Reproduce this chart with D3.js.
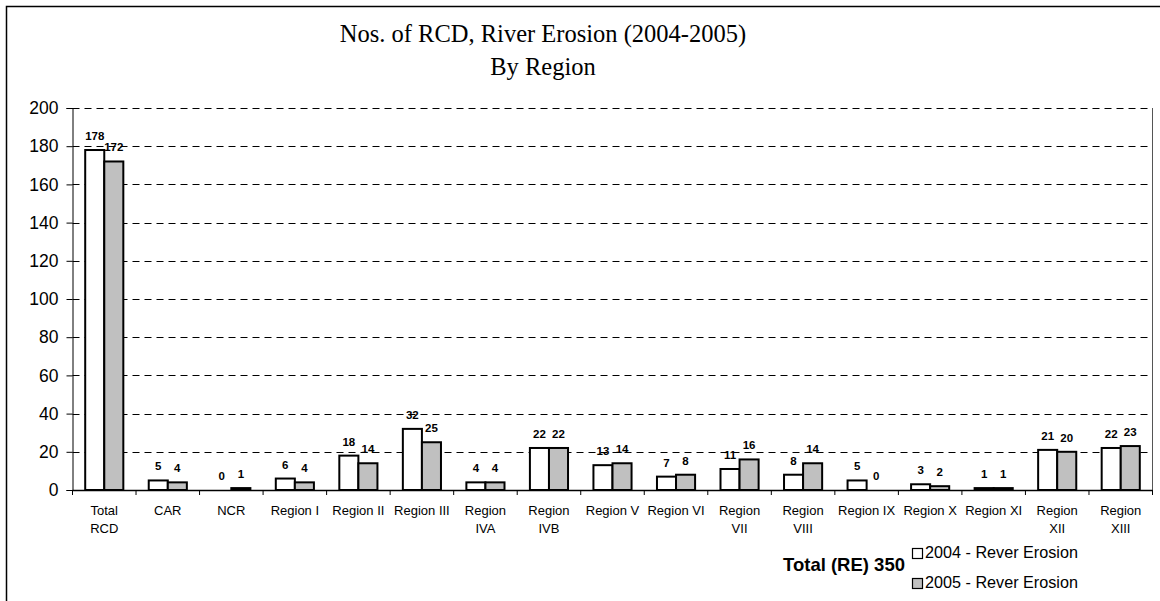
<!DOCTYPE html>
<html>
<head>
<meta charset="utf-8">
<script src="https://cdn.jsdelivr.net/npm/d3@7"></script>
<style>
  html, body { margin: 0; padding: 0; background: #fff; }
  svg { display: block; }
</style>
</head>
<body>
<svg id="chart" width="1160" height="601"></svg>
<script>
const categories = [["Total","RCD"],["CAR"],["NCR"],["Region I"],["Region II"],["Region III"],["Region","IVA"],["Region","IVB"],["Region V"],["Region VI"],["Region","VII"],["Region","VIII"],["Region IX"],["Region X"],["Region XI"],["Region","XII"],["Region","XIII"]];
const values2004 = [178,5,0,6,18,32,4,22,13,7,11,8,5,3,1,21,22];
const values2005 = [172,4,1,4,14,25,4,22,14,8,16,14,0,2,1,20,23];
const seriesNames = ["2004 - Rever Erosion", "2005 - Rever Erosion"];
const yTicks = [0,20,40,60,80,100,120,140,160,180,200];
const titleLines = ["Nos. of RCD, River Erosion (2004-2005)", "By Region"];
const totalNote = "Total (RE) 350";

(function () {
const svg = d3.select("#chart");
const pLeft = 72.5, pRight = 1152.5, pTop = 108, pBottom = 490;

// outer border
svg.append("rect").attr("x", 6.5).attr("y", 6.5).attr("width", 1160).attr("height", 620)
  .attr("fill", "none").attr("stroke", "#000").attr("stroke-width", 1.5);

const idx = categories.map((d, i) => i);
const x0 = d3.scaleBand().domain(idx).range([pLeft, pRight]).padding(0);
const bw = x0.bandwidth() * 0.3;
const y = d3.scaleLinear().domain([0, 200]).range([pBottom, pTop]);

// gridlines
svg.append("g").selectAll("line").data(yTicks.filter(t => t > 0)).join("line")
  .attr("x1", pLeft).attr("x2", pRight)
  .attr("y1", d => Math.round(y(d)) + 0.5).attr("y2", d => Math.round(y(d)) + 0.5)
  .attr("stroke", "#000").attr("stroke-width", 1).attr("stroke-dasharray", "7,5");

// right plot border
svg.append("line").attr("x1", pRight).attr("x2", pRight).attr("y1", pTop).attr("y2", pBottom)
  .attr("stroke", "#555").attr("stroke-width", 1);

// y axis
const yAxis = d3.axisLeft(y).tickValues(yTicks).tickSize(6).tickPadding(8);
const gy = svg.append("g").attr("transform", `translate(${pLeft},0)`).call(yAxis);
gy.select(".domain").attr("stroke", "#000");
gy.selectAll(".tick line").attr("stroke", "#000");
gy.selectAll(".tick text").attr("font-family", "Arial, 'Liberation Sans', sans-serif")
  .attr("font-size", 17.5).attr("fill", "#000");

// bars
const series = [
  { vals: values2004, fill: "#ffffff", off: -bw },
  { vals: values2005, fill: "#c0c0c0", off: 0 }
];
series.forEach(s => {
  svg.append("g").selectAll("rect").data(idx).join("rect")
    .attr("x", i => x0(i) + x0.bandwidth() / 2 + s.off)
    .attr("y", i => y(s.vals[i]))
    .attr("width", bw)
    .attr("height", i => y(0) - y(s.vals[i]))
    .attr("fill", s.fill).attr("stroke", "#000").attr("stroke-width", 2);
  svg.append("g").selectAll("text").data(idx).join("text")
    .attr("x", i => x0(i) + x0.bandwidth() / 2 + s.off + bw / 2)
    .attr("y", i => y(s.vals[i]) - 10)
    .attr("text-anchor", "middle")
    .attr("font-family", "Arial, 'Liberation Sans', sans-serif")
    .attr("font-size", 11.5).attr("font-weight", "bold").attr("fill", "#000")
    .text(i => s.vals[i]);
});

// x axis
svg.append("line").attr("x1", pLeft).attr("x2", pRight).attr("y1", pBottom + 0.5).attr("y2", pBottom + 0.5)
  .attr("stroke", "#000").attr("stroke-width", 1.5);
const boundaries = idx.map(i => x0(i) + x0.bandwidth()).concat([pLeft]);
svg.append("g").selectAll("line").data(boundaries).join("line")
  .attr("x1", d => d).attr("x2", d => d).attr("y1", pBottom).attr("y2", pBottom + 5)
  .attr("stroke", "#000").attr("stroke-width", 1);
const xl = svg.append("g").selectAll("text").data(idx).join("text")
  .attr("x", i => x0(i) + x0.bandwidth() / 2)
  .attr("y", 515)
  .attr("text-anchor", "middle")
  .attr("font-family", "Arial, 'Liberation Sans', sans-serif")
  .attr("font-size", 13).attr("fill", "#000");
xl.each(function(i) {
  const t = d3.select(this);
  categories[i].forEach((line, k) => {
    t.append("tspan").attr("x", x0(i) + x0.bandwidth() / 2).attr("dy", k === 0 ? 0 : 18).text(line);
  });
});

// title
svg.append("g").selectAll("text").data(titleLines).join("text")
  .attr("x", 543).attr("y", (d, i) => 42 + i * 33)
  .attr("text-anchor", "middle")
  .attr("font-family", "'Times New Roman', 'Liberation Serif', serif")
  .attr("font-size", 24.5).attr("fill", "#000")
  .text(d => d);

// total note
svg.append("text").attr("x", 783).attr("y", 571)
  .attr("font-family", "Arial, 'Liberation Sans', sans-serif")
  .attr("font-size", 18.5).attr("font-weight", "bold").attr("fill", "#000")
  .text(totalNote);

// legend
const lg = svg.append("g").selectAll("g").data(seriesNames).join("g")
  .attr("transform", (d, i) => `translate(912,${548 + i * 30})`);
lg.append("rect").attr("x", 0.5).attr("y", 0.5).attr("width", 10).attr("height", 10)
  .attr("fill", (d, i) => series[i].fill).attr("stroke", "#000").attr("stroke-width", 1.2);
lg.append("text").attr("x", 13).attr("y", 9.5)
  .attr("font-family", "Arial, 'Liberation Sans', sans-serif")
  .attr("font-size", 16.2).attr("fill", "#000")
  .text(d => d);
})();
</script>
</body>
</html>
